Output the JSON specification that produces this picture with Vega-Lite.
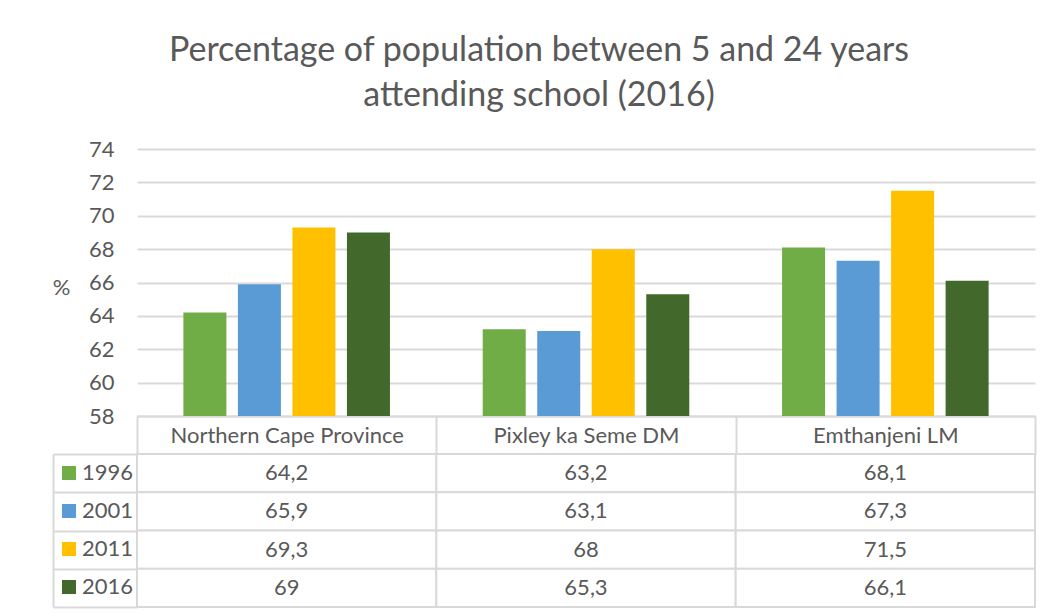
{
  "$schema": "https://vega.github.io/schema/vega-lite/v6.json",
  "padding": {"left": 52, "top": 34, "right": 10, "bottom": 5},
  "background": "white",
  "title": {
    "text": ["Percentage of population between 5 and 24 years", "attending school (2016)"],
    "font": "Lato",
    "fontSize": 34,
    "fontWeight": "normal",
    "color": "#595959",
    "lineHeight": 45,
    "anchor": "middle",
    "offset": 25,
    "dx": -5
  },
  "data": {
    "values": [
      {"region": "Northern Cape Province", "year": "1996", "value": 64.2},
      {"region": "Northern Cape Province", "year": "2001", "value": 65.9},
      {"region": "Northern Cape Province", "year": "2011", "value": 69.3},
      {"region": "Northern Cape Province", "year": "2016", "value": 69},
      {"region": "Pixley ka Seme DM", "year": "1996", "value": 63.2},
      {"region": "Pixley ka Seme DM", "year": "2001", "value": 63.1},
      {"region": "Pixley ka Seme DM", "year": "2011", "value": 68},
      {"region": "Pixley ka Seme DM", "year": "2016", "value": 65.3},
      {"region": "Emthanjeni LM", "year": "1996", "value": 68.1},
      {"region": "Emthanjeni LM", "year": "2001", "value": 67.3},
      {"region": "Emthanjeni LM", "year": "2011", "value": 71.5},
      {"region": "Emthanjeni LM", "year": "2016", "value": 66.1}
    ]
  },
  "spacing": 38,
  "bounds": "flush",
  "vconcat": [
    {
      "width": 898,
      "height": 267,
      "mark": {"type": "bar"},
      "encoding": {
        "x": {
          "field": "region", "type": "nominal", "sort": null,
          "scale": {"paddingInner": 0, "paddingOuter": 0},
          "axis": {"labels": false, "ticks": false, "title": null, "domain": true, "domainColor": "#d9d9d9", "domainWidth": 2}
        },
        "xOffset": {
          "field": "year", "type": "nominal", "sort": null,
          "scale": {"paddingInner": 0.211, "paddingOuter": 0.851}
        },
        "y": {
          "field": "value", "type": "quantitative",
          "scale": {"domain": [58, 74], "zero": false, "nice": false},
          "axis": {
            "values": [58, 60, 62, 64, 66, 68, 70, 72, 74],
            "domain": false, "ticks": false,
            "grid": true, "gridColor": "#d9d9d9", "gridWidth": 2,
            "labelFont": "Lato", "labelFontSize": 22, "labelColor": "#595959", "labelPadding": 23,
            "title": "%", "titleFont": "Lato", "titleFontSize": 22, "titleFontWeight": "normal", "titleColor": "#595959",
            "titleAngle": 0, "titleAlign": "center", "titleBaseline": "middle", "titleX": -76, "titleY": 138
          }
        },
        "y2": {"datum": 58},
        "color": {
          "field": "year", "type": "nominal", "sort": null,
          "scale": {"domain": ["1996", "2001", "2011", "2016"], "range": ["#70ad47", "#5b9bd5", "#ffc000", "#43682b"]},
          "legend": {
            "orient": "none", "legendX": -79, "legendY": 313, "title": null,
            "symbolType": "square", "symbolSize": 196, "symbolStrokeWidth": 0, "symbolOpacity": 1,
            "labelFont": "Lato", "labelFontSize": 22, "labelColor": "#595959", "labelOffset": 2,
            "rowPadding": 16, "padding": 0
          }
        }
      }
    },
    {
      "width": 898,
      "height": 153,
      "layer": [
        {
          "mark": {"type": "rect", "fill": "white", "stroke": "#d9d9d9", "strokeWidth": 2},
          "encoding": {
            "x": {
              "field": "region", "type": "nominal", "sort": null,
              "scale": {"paddingInner": 0, "paddingOuter": 0},
              "axis": {
                "orient": "top", "title": null, "domain": false,
                "ticks": true, "tickBand": "extent", "tickSize": 38, "tickColor": "#d9d9d9", "tickWidth": 2,
                "labelFont": "Lato", "labelFontSize": 22, "labelColor": "#595959", "labelLimit": 0,
                "labelBaseline": "middle", "labelPadding": -19, "labelAngle": 0
              }
            },
            "y": {
              "field": "year", "type": "nominal", "sort": null,
              "scale": {"paddingInner": 0, "paddingOuter": 0},
              "axis": {
                "orient": "left", "title": null, "labels": false, "domain": false,
                "ticks": true, "tickBand": "extent", "tickSize": 84, "tickColor": "#d9d9d9", "tickWidth": 2
              }
            }
          }
        },
        {
          "mark": {"type": "text", "font": "Lato", "fontSize": 22, "color": "#595959"},
          "encoding": {
            "x": {"field": "region", "type": "nominal", "sort": null},
            "y": {
              "field": "year", "type": "nominal", "sort": null,
              "axis": {"orient": "left", "offset": 84, "title": null, "labels": false, "ticks": false, "domain": true, "domainColor": "#d9d9d9", "domainWidth": 2}
            },
            "text": {"field": "value", "type": "quantitative", "format": "~r"}
          }
        }
      ],
      "resolve": {"axis": {"y": "independent"}}
    }
  ],
  "config": {
    "locale": {"number": {"decimal": ",", "thousands": " ", "grouping": [3], "currency": ["", ""]}},
    "view": {"stroke": null},
    "font": "Lato"
  }
}
